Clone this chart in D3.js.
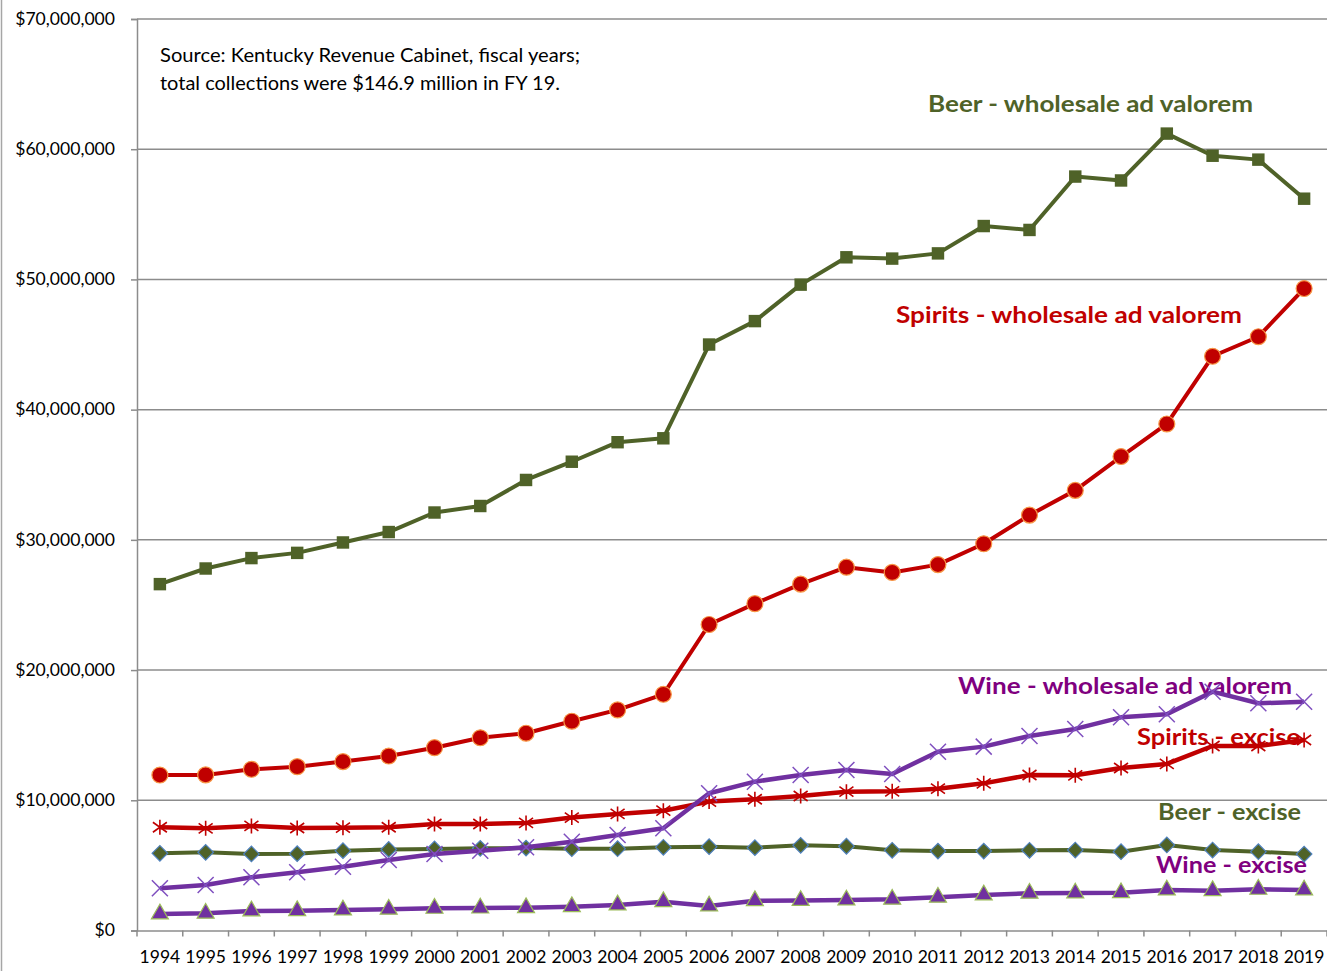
<!DOCTYPE html>
<html>
<head>
<meta charset="utf-8">
<script src="https://cdn.jsdelivr.net/npm/d3@7"></script>
<style>
  html, body { margin: 0; padding: 0; background: #fff; }
  svg { display: block; font-family: Lato, "Open Sans", sans-serif; }
</style>
</head>
<body>
<svg id="chart" width="1327" height="971"></svg>
<script>
// Kentucky alcohol tax collections by fiscal year (dollars, millions)
const years = d3.range(1994, 2020).map(String);

const beerWholesale = [26.6, 27.8, 28.6, 29.0, 29.8, 30.6, 32.1, 32.6, 34.6, 36.0, 37.5, 37.8, 45.0,
  46.8, 49.6, 51.7, 51.6, 52.0, 54.1, 53.8, 57.9, 57.6, 61.2, 59.5, 59.2, 56.2];
const spiritsWholesale = [11.94, 11.95, 12.38, 12.58, 12.97, 13.4, 14.04, 14.8, 15.15, 16.07, 16.94, 18.14, 23.5,
  25.1, 26.6, 27.9, 27.5, 28.1, 29.7, 31.9, 33.8, 36.4, 38.9, 44.1, 45.6, 49.3];
const wineWholesale = [3.24, 3.5, 4.09, 4.47, 4.9, 5.41, 5.88, 6.13, 6.39, 6.82, 7.33, 7.85, 10.54,
  11.43, 11.94, 12.33, 12.02, 13.73, 14.12, 14.94, 15.48, 16.37, 16.6, 18.34, 17.45, 17.57];
const spiritsExcise = [7.93, 7.85, 8.03, 7.87, 7.9, 7.93, 8.18, 8.18, 8.26, 8.67, 8.95, 9.2, 9.9,
  10.08, 10.33, 10.66, 10.69, 10.89, 11.3, 11.94, 11.92, 12.48, 12.79, 14.17, 14.17, 14.63];
const beerExcise = [5.93, 6.0, 5.88, 5.9, 6.13, 6.23, 6.26, 6.31, 6.33, 6.28, 6.28, 6.39, 6.44,
  6.36, 6.54, 6.47, 6.16, 6.1, 6.1, 6.16, 6.18, 6.05, 6.57, 6.18, 6.05, 5.87];
const wineExcise = [1.27, 1.32, 1.5, 1.52, 1.57, 1.63, 1.7, 1.72, 1.75, 1.83, 1.96, 2.21, 1.88,
  2.29, 2.3, 2.34, 2.4, 2.55, 2.73, 2.86, 2.88, 2.9, 3.11, 3.06, 3.16, 3.11];

const yTicks = [0, 10e6, 20e6, 30e6, 40e6, 50e6, 60e6, 70e6];

const sourceNote = [
  "Source: Kentucky Revenue Cabinet, fiscal years;",
  "total collections were $146.9 million in FY 19."
];

const seriesLabels = [
  { text: "Beer - wholesale ad valorem", color: "#4F6228" },
  { text: "Spirits - wholesale ad valorem", color: "#C00000" },
  { text: "Wine - wholesale ad valorem", color: "#7F007F" },
  { text: "Spirits - excise", color: "#C00000" },
  { text: "Beer - excise", color: "#4F6228" },
  { text: "Wine - excise", color: "#7F007F" }
];

const svg = d3.select("#chart");
const plot = { left: 137, right: 1327, top: 19, bottom: 930.5 };

const x = d3.scaleBand().domain(years).range([plot.left, plot.right]).padding(0);
const y = d3.scaleLinear().domain([0, 70e6]).range([plot.bottom, plot.top]);
const cx = d => x(d) + x.bandwidth() / 2;

// outer chart border on the left
svg.append("line").attr("x1", 1.5).attr("x2", 1.5).attr("y1", 0).attr("y2", 971)
  .attr("stroke", "#A6A6A6").attr("stroke-width", 1.5);

// horizontal gridlines
svg.append("g").selectAll("line").data(yTicks.slice(1)).join("line")
  .attr("x1", plot.left).attr("x2", plot.right)
  .attr("y1", d => y(d)).attr("y2", d => y(d))
  .attr("stroke", "#8C8C8C").attr("stroke-width", 1.5);

// y axis
const yAxis = svg.append("g").attr("transform", `translate(${plot.left},0)`)
  .call(d3.axisLeft(y).tickValues(yTicks).tickSize(6).tickPadding(16)
    .tickFormat(d => "$" + d3.format(",")(d)));
yAxis.select(".domain").attr("stroke", "#8C8C8C").attr("stroke-width", 1.5);
yAxis.selectAll(".tick line").attr("stroke", "#8C8C8C").attr("stroke-width", 1.5);
yAxis.selectAll(".tick text").attr("font-family", "Lato, sans-serif").attr("font-size", 17.6)
  .attr("fill", "#000").attr("dy", "0.3em");

// x axis with ticks between categories
const xAxis = svg.append("g").attr("transform", `translate(0,${plot.bottom})`)
  .call(d3.axisBottom(x).tickSize(0).tickPadding(20));
xAxis.select(".domain").attr("stroke", "#8C8C8C").attr("stroke-width", 1.5);
xAxis.selectAll(".tick text").attr("font-family", "Lato, sans-serif").attr("font-size", 17.5).attr("fill", "#000");
xAxis.append("g").selectAll("line").data(years.concat(["end"])).join("line")
  .attr("x1", (d, i) => plot.left + i * x.step()).attr("x2", (d, i) => plot.left + i * x.step())
  .attr("y1", 0).attr("y2", 6).attr("stroke", "#8C8C8C").attr("stroke-width", 1.5);

// source note
const noteWidth = [420, 400];
svg.append("g").selectAll("text").data(sourceNote).join("text")
  .attr("x", 160).attr("y", (d, i) => 62 + i * 28)
  .attr("font-size", 19).attr("fill", "#000")
  .attr("textLength", (d, i) => noteWidth[i]).attr("lengthAdjust", "spacingAndGlyphs")
  .text(d => d);

// series labels
const labelPos = [
  { x: 928, y: 112 }, { x: 896, y: 323 }, { x: 958, y: 694 },
  { x: 1137, y: 745 }, { x: 1158, y: 820 }, { x: 1156, y: 873 }
];
const labelWidth = [325, 346, 334, 163, 143, 151];
svg.append("g").selectAll("text").data(seriesLabels).join("text")
  .attr("x", (d, i) => labelPos[i].x).attr("y", (d, i) => labelPos[i].y)
  .attr("font-size", 23.5).attr("font-weight", "bold").attr("fill", d => d.color)
  .attr("textLength", (d, i) => labelWidth[i]).attr("lengthAdjust", "spacingAndGlyphs")
  .text(d => d.text);

// marker shapes
const starPath = "M0,-7.5V7.5M-7,-5L7,5M-7,5L7,-5";
const timesPath = "M-8,-8L8,8M-8,8L8,-8";

// series
const series = [
  { values: wineExcise, line: "#7030A0", width: 4.5, mark: d3.symbol(d3.symbolTriangle, 125)(), fill: "#7030A0", stroke: "#9BBB59", sw: 1.2 },
  { values: beerExcise, line: "#4F6228", width: 4, mark: d3.symbol(d3.symbolSquare, 121)(), rotate: 45, fill: "#4F6228", stroke: "#4F81BD", sw: 1.2 },
  { values: spiritsExcise, line: "#C00000", width: 4.5, mark: starPath, fill: "none", stroke: "#C00000", sw: 1.6 },
  { values: wineWholesale, line: "#7030A0", width: 4.5, mark: timesPath, fill: "none", stroke: "#7F4FBF", sw: 1.5 },
  { values: spiritsWholesale, line: "#C00000", width: 4, mark: d3.symbol(d3.symbolCircle, 200)(), fill: "#C00000", stroke: "#F79646", sw: 1.2 },
  { values: beerWholesale, line: "#4F6228", width: 4, mark: d3.symbol(d3.symbolSquare, 155)(), fill: "#4F6228", stroke: "none", sw: 0 }
];

const line = d3.line().x((d, i) => cx(years[i])).y(d => y(d * 1e6));

series.forEach(s => {
  const g = svg.append("g");
  g.append("path").datum(s.values).attr("d", line)
    .attr("fill", "none").attr("stroke", s.line).attr("stroke-width", s.width)
    .attr("stroke-linejoin", "round");
  g.selectAll("path.m").data(s.values).join("path").attr("class", "m")
    .attr("transform", (d, i) => `translate(${cx(years[i])},${y(d * 1e6)})` + (s.rotate ? ` rotate(${s.rotate})` : ""))
    .attr("d", s.mark)
    .attr("fill", s.fill).attr("stroke", s.stroke).attr("stroke-width", s.sw);
});
</script>
</body>
</html>
